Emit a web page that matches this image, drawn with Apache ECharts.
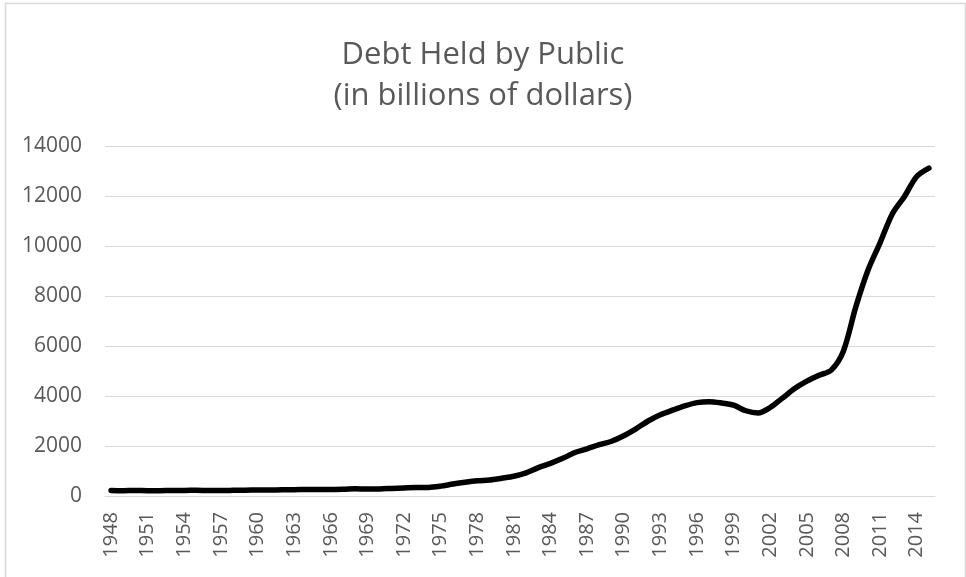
<!DOCTYPE html>
<html>
<head>
<meta charset="utf-8">
<script src="https://cdn.jsdelivr.net/npm/echarts@6/dist/echarts.min.js"></script>
<style>html,body{margin:0;padding:0;background:#fff;}#c{width:966px;height:577px;}</style>
</head>
<body>
<div id="c"></div>
<script>
var years = ["1948","1949","1950","1951","1952","1953","1954","1955","1956","1957","1958","1959","1960","1961","1962","1963","1964","1965","1966","1967","1968","1969","1970","1971","1972","1973","1974","1975","1976","1977","1978","1979","1980","1981","1982","1983","1984","1985","1986","1987","1988","1989","1990","1991","1992","1993","1994","1995","1996","1997","1998","1999","2000","2001","2002","2003","2004","2005","2006","2007","2008","2009","2010","2011","2012","2013","2014","2015"];
var debtHeld = [216.3,214.3,219.0,214.3,214.8,218.4,224.5,226.6,222.2,219.3,226.3,234.7,236.8,238.4,248.0,254.0,256.8,260.8,263.7,266.6,289.5,278.1,283.2,303.0,322.4,340.9,343.7,394.7,477.4,549.1,607.1,640.3,711.9,789.4,924.6,1137.3,1307.0,1507.3,1740.6,1889.8,2051.6,2190.7,2411.6,2689.0,2999.7,3248.4,3433.1,3604.4,3734.1,3772.3,3721.1,3632.4,3409.8,3319.6,3540.4,3913.4,4295.5,4592.2,4829.0,5035.1,5803.1,7544.7,9018.9,10128.2,11281.1,11982.7,12779.9,13116.7];
var titleText = "Debt Held by Public\n(in billions of dollars)";

var chart = echarts.init(document.getElementById('c'), null, {renderer: 'canvas'});
chart.setOption({
  backgroundColor: '#ffffff',
  animation: false,
  graphic: [{
    type: 'rect', left: 3, top: 1,
    shape: {x: 0, y: 0, width: 960, height: 620},
    style: {fill: 'none', stroke: '#d9d9d9', lineWidth: 1.5},
    silent: true
  }],
  title: {
    text: titleText,
    left: 'center',
    top: 30,
    textStyle: {fontFamily: 'Open Sans', fontSize: 31, fontWeight: 'normal', color: '#595959', lineHeight: 41}
  },
  grid: {left: 105, right: 31, top: 146, bottom: 81, containLabel: false},
  xAxis: {
    type: 'category',
    data: years,
    boundaryGap: true,
    axisLine: {show: true, lineStyle: {color: '#d9d9d9', width: 1}},
    axisTick: {show: false},
    axisLabel: {interval: 2, rotate: 90, margin: 16, color: '#595959', fontFamily: 'Open Sans', fontSize: 20}
  },
  yAxis: {
    type: 'value',
    min: 0, max: 14000, interval: 2000,
    axisLine: {show: false},
    axisTick: {show: false},
    splitLine: {lineStyle: {color: '#d9d9d9', width: 1}},
    axisLabel: {margin: 23, color: '#595959', fontFamily: 'Open Sans', fontSize: 21, formatter: function (v) { return String(v); }}
  },
  series: [{
    type: 'line',
    data: debtHeld,
    smooth: 0.3,
    symbol: 'none',
    lineStyle: {color: '#000000', width: 5.5, cap: 'round', join: 'round'}
  }]
});
</script>
</body>
</html>
